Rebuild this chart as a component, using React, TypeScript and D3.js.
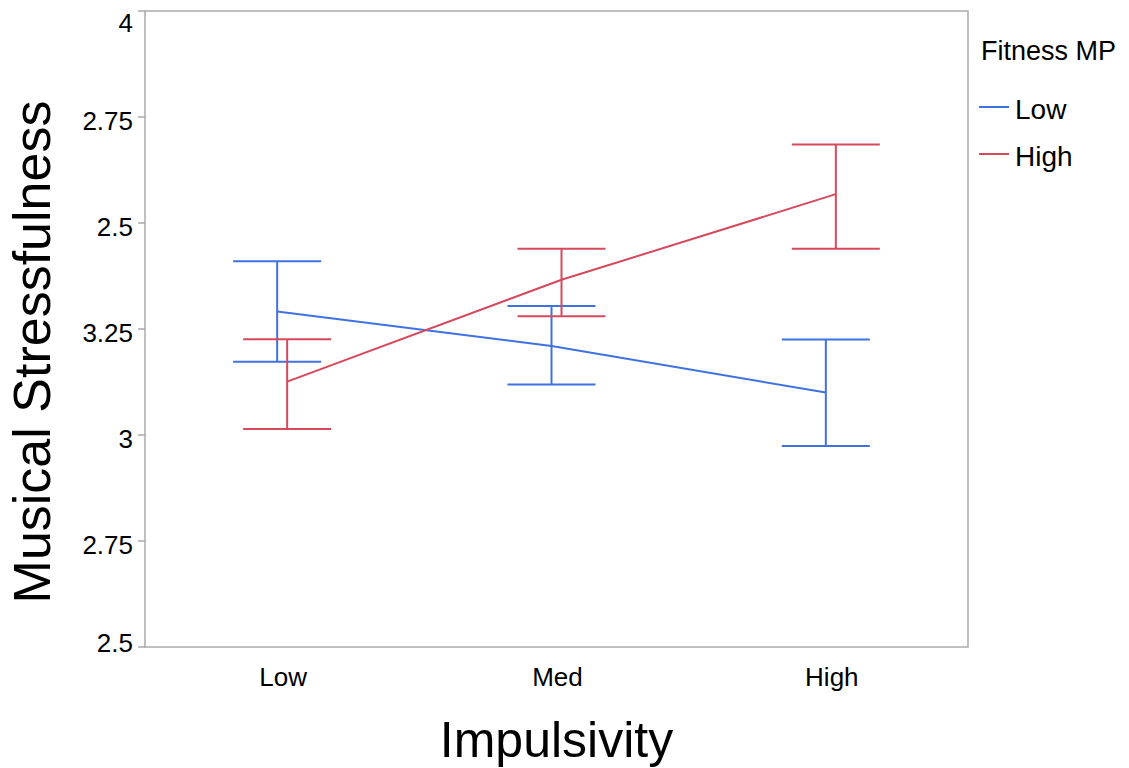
import React from 'react';
import * as d3 from 'd3';

const width = 1129;
const height = 768;
const margin = { top: 11, right: 161, bottom: 121, left: 145 };

// data
const impulsivity = ['Low', 'Med', 'High'];
const fitnessGroups = ['Low', 'High'];
const lowMeans = [3.291, 3.21, 3.1];
const lowUpper = [3.41, 3.304, 3.225];
const lowLower = [3.173, 3.119, 2.974];
const highMeans = [3.126, 3.366, 3.568];
const highUpper = [3.226, 3.439, 3.685];
const highLower = [3.014, 3.28, 3.439];
const yTickValues = [2.5, 2.75, 3, 3.25, 3.5, 3.75, 4];
const yTickLabels = ['2.5', '2.75', '3', '3.25', '2.5', '2.75', '4'];
const groupColors = ['#3f72e0', '#d7485c'];

const series = [
  { name: fitnessGroups[0], mean: lowMeans, upper: lowUpper, lower: lowLower, color: groupColors[0] },
  { name: fitnessGroups[1], mean: highMeans, upper: highUpper, lower: highLower, color: groupColors[1] },
];

const font = '"Liberation Sans", Arial, sans-serif';

export default function App() {
  const innerW = width - margin.left - margin.right;
  const innerH = height - margin.top - margin.bottom;

  const x = d3.scalePoint<string>().domain(impulsivity).range([0, innerW]).padding(0.5);
  const dodge = d3.scalePoint<string>().domain(fitnessGroups).range([-5, 5]);
  const y = d3.scaleLinear().domain([2.5, 4]).range([innerH, 0]);
  const line = d3.line<number>()
    .x((d, i) => (x(impulsivity[i]) as number))
    .y(d => y(d));
  const capHalf = 44;

  return (
    <svg width={width} height={height} style={{ position: 'absolute', left: 0, top: 0, display: 'block' }}>
      <rect width={width} height={height} fill="#fff" />
      <g transform={'translate(' + margin.left + ',' + margin.top + ')'}>
        <rect x={0} y={0} width={innerW} height={innerH} fill="none" stroke="#aaaaaa" strokeWidth={1.5} />
        {yTickValues.map((v, i) => {
          // end labels are kept inside the plot's height
          const ly = Math.min(Math.max(y(v) + 4, 12), innerH - 4);
          return (
            <g key={i}>
              <line x1={-7} x2={0} y1={y(v)} y2={y(v)} stroke="#aaaaaa" strokeWidth={1.5} />
              <text x={-12} y={ly} dy="0.35em" textAnchor="end" fontFamily={font} fontSize={26} fill="#000">
                {yTickLabels[i]}
              </text>
            </g>
          );
        })}
        {impulsivity.map(c => (
          <text key={c} x={(x(c) as number) + 1} y={innerH + 39} textAnchor="middle" fontFamily={font} fontSize={26} fill="#000">
            {c}
          </text>
        ))}
        {series.map(s => {
          const off = dodge(s.name) as number;
          return (
            <g key={s.name} transform={'translate(' + off + ',0)'}>
              {s.mean.map((m, i) => {
                const cx = x(impulsivity[i]) as number;
                return (
                  <g key={i} stroke={s.color} strokeWidth={2} fill="none">
                    <line x1={cx} x2={cx} y1={y(s.upper[i])} y2={y(s.lower[i])} />
                    <line x1={cx - capHalf} x2={cx + capHalf} y1={y(s.upper[i])} y2={y(s.upper[i])} />
                    <line x1={cx - capHalf} x2={cx + capHalf} y1={y(s.lower[i])} y2={y(s.lower[i])} />
                  </g>
                );
              })}
              <path d={line(s.mean) as string} fill="none" stroke={s.color} strokeWidth={2} />
            </g>
          );
        })}
      </g>
      <text
        transform={'translate(50,352) rotate(-90)'}
        textAnchor="middle"
        fontFamily={font}
        fontSize={52}
        fill="#000"
      >
        Musical Stressfulness
      </text>
      <text x={margin.left + innerW / 2} y={757} textAnchor="middle" fontFamily={font} fontSize={50} fill="#000">
        Impulsivity
      </text>
      <g transform="translate(979,0)">
        <text x={2} y={60} fontFamily={font} fontSize={27} fill="#000">Fitness MP</text>
        {series.map((s, i) => (
          <g key={s.name} transform={'translate(0,' + (107 + i * 47) + ')'}>
            <line x1={0} x2={30} stroke={s.color} strokeWidth={2} />
            <text x={36} y={2} dy="0.36em" fontFamily={font} fontSize={28} fill="#000">{s.name}</text>
          </g>
        ))}
      </g>
    </svg>
  );
}
